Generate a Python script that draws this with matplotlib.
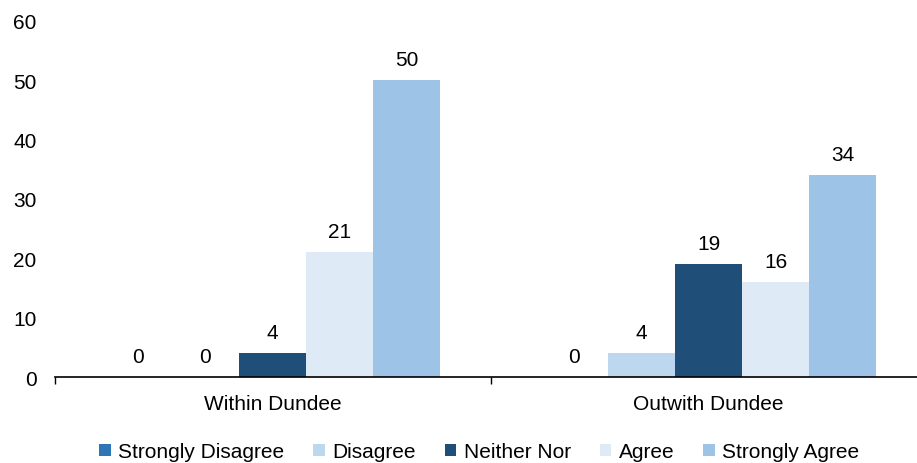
import numpy as np
import matplotlib.pyplot as plt

plt.rcParams['font.family'] = ['Liberation Sans', 'DejaVu Sans']

categories = ["Within Dundee", "Outwith Dundee"]
series = ["Strongly Disagree", "Disagree", "Neither Nor", "Agree", "Strongly Agree"]
values = [
    [0, 0],    # Strongly Disagree
    [0, 4],    # Disagree
    [4, 19],   # Neither Nor
    [21, 16],  # Agree
    [50, 34],  # Strongly Agree
]
colors = ["#2E75B6", "#BDD7EE", "#1F4E79", "#DEEBF7", "#9DC3E6"]

fig = plt.figure(figsize=(9.17, 4.64), dpi=100)
ax = fig.add_axes([0.0595, 0.185, 0.951, 0.768])

x = np.arange(len(categories))
w = 0.154
for i, (name, vals) in enumerate(zip(series, values)):
    pos = x + (i - 2) * w
    bars = ax.bar(pos, vals, width=w, color=colors[i], label=name)
    for b, v in zip(bars, vals):
        ax.text(b.get_x() + b.get_width() / 2, v + 1.9, str(v),
                ha='center', va='bottom', fontsize=15)

ax.set_xlim(-0.5, 1.5)
ax.set_ylim(0, 60)
ax.set_yticks(range(0, 61, 10))
ax.tick_params(axis='y', length=0, labelsize=15, pad=13)
ax.set_xticks([-0.5, 0.5, 1.5], minor=False)
ax.set_xticklabels([])
ax.set_xticks(x, minor=True)
ax.set_xticklabels(categories, minor=True, fontsize=15)
ax.tick_params(axis='x', which='major', direction='out', length=5, width=1)
ax.tick_params(axis='x', which='minor', length=0, pad=12)
for s in ['top', 'right', 'left']:
    ax.spines[s].set_visible(False)
ax.spines['bottom'].set_linewidth(1.2)

ax.legend(loc='center', bbox_to_anchor=(0.487, -0.21), ncol=5, frameon=False,
          fontsize=15, handlelength=0.55, handleheight=0.55, handletextpad=0.35,
          columnspacing=1.4)

fig.savefig("out.png", dpi=100)
